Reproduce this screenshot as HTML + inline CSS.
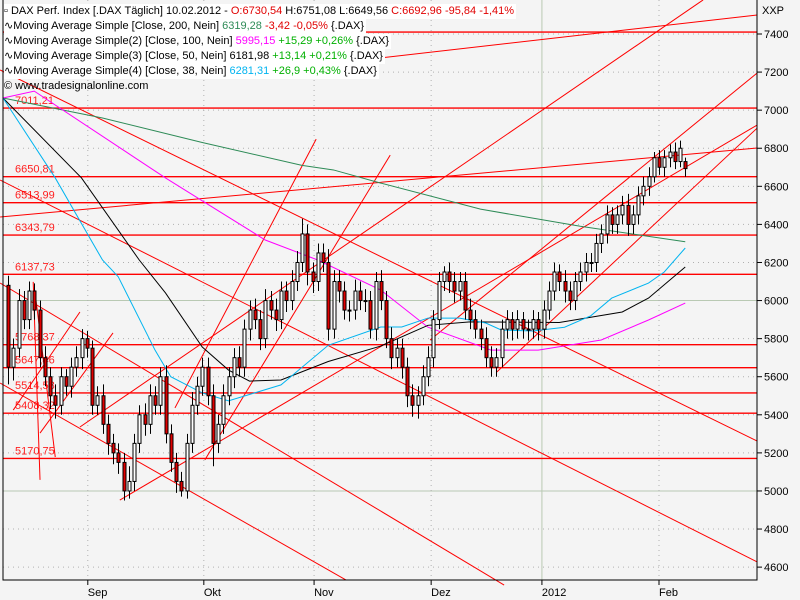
<!DOCTYPE html>
<html><head><meta charset="utf-8"><style>
html,body{margin:0;padding:0;background:#f4f4f4;}
svg{display:block;font-family:"Liberation Sans",sans-serif;}
</style></head><body>
<svg id="chart" width="800" height="600" viewBox="0 0 800 600">
<rect x="0" y="0" width="800" height="600" fill="#f4f4f4"/>
<g id="grid"></g>
<g id="hlines"></g>
<g id="trend"></g>
<g id="mas"></g>
<g id="candles"></g>
<g id="axes"></g>
</svg>
<script>
const opens=[6080,5650,5750,6000,5900,6050,5950,5700,5600,5500,5450,5600,5550,5650,5700,5800,5750,
5450,5500,5350,5250,5200,5150,5000,5050,5250,5400,5350,5500,5450,5600,5300,5150,5050,5000,5250,5450,5550,5650,
5500,5250,5350,5500,5600,5700,5650,5850,5950,5900,5800,6000,5950,5900,6050,6000,6100,6200,6350,6150,6100,
6250,6200,5850,6100,6050,5950,5950,6050,6000,6000,5850,6100,6000,5800,5700,5750,5650,5500,5450,5500,5600,
5700,5900,6100,6150,6100,6050,6100,5950,5900,5850,5800,5700,5650,5700,5850,5900,5850,5900,5850,5850,5900,
5850,5950,6050,6150,6100,6050,6000,6100,6150,6200,6200,6300,6350,6450,6400,6450,6500,6400,6450,6550,
6600,6650,6750,6700,6750,6780,6730,6730];
const highs=[6130,5800,6060,6050,6100,6090,6000,5760,5650,5560,5650,5640,5700,5760,5850,5840,5790,
5550,5560,5400,5300,5250,5200,5130,5300,5450,5460,5560,5550,5650,5660,5350,5200,5100,5300,5520,5600,5700,5700,
5560,5400,5560,5650,5750,5760,5900,6000,6010,5950,6060,6050,6010,6100,6100,6160,6260,6430,6400,6200,6300,
6300,6270,6160,6160,6100,6000,6110,6100,6060,6050,6150,6160,6050,5860,5800,5800,5700,5560,5550,5660,5760,
5950,6150,6180,6200,6150,6150,6150,6010,5950,5900,5860,5760,5750,5900,5950,5940,5950,5940,5900,5950,5940,
6000,6100,6200,6190,6160,6100,6150,6200,6250,6250,6350,6400,6500,6490,6500,6550,6560,6500,6600,6650,
6700,6780,6790,6790,6820,6830,6840,6751];
const lows=[5560,5580,5700,5850,5850,5900,5650,5550,5430,5380,5400,5500,5490,5600,5640,5700,5400,
5400,5300,5190,5140,5090,4950,4960,5000,5200,5290,5300,5400,5400,5250,5100,4990,4970,4960,5200,5400,5500,5450,
5130,5200,5300,5450,5540,5600,5600,5790,5850,5740,5750,5900,5840,5850,5940,5950,6050,6150,6080,6040,6050,
6150,5790,5800,5990,5900,5890,5900,5950,5940,5800,5790,5950,5750,5640,5650,5590,5440,5390,5380,5450,5550,
5650,5850,6050,6040,5990,6000,5900,5850,5800,5740,5650,5600,5600,5650,5800,5790,5800,5800,5790,5800,5790,
5800,5900,6000,6050,5990,5950,5950,6050,6100,6150,6150,6250,6300,6350,6350,6400,6340,6350,6400,6500,
6550,6620,6660,6650,6700,6690,6700,6650];
const closes=[5650,5750,6000,5900,6050,5950,5700,5600,5500,5450,5600,5550,5650,5700,5800,5750,5450,
5500,5350,5250,5200,5150,5000,5050,5250,5400,5350,5500,5450,5600,5300,5150,5050,5000,5250,5450,5550,5650,5500,
5250,5350,5500,5600,5700,5650,5850,5950,5900,5800,6000,5950,5900,6050,6000,6100,6200,6350,6150,6100,6250,
6200,5850,6100,6050,5950,5950,6050,6000,6000,5850,6100,6000,5800,5700,5750,5650,5500,5450,5500,5600,5700,
5900,6100,6150,6100,6050,6100,5950,5900,5850,5800,5700,5650,5700,5850,5900,5850,5900,5850,5850,5900,5850,
5950,6050,6150,6100,6050,6000,6100,6150,6200,6200,6300,6350,6450,6400,6450,6500,6400,6450,6550,6600,
6650,6750,6700,6750,6780,6730,6800,6693];
const ma200Idx=[0,18,37,56,62,71,90,109,129];
const ma200Val=[7064,6959,6830,6710,6686,6617,6480,6390,6309];
const ma100Idx=[0,5,30,49,59,71,80,92,101,113,122,129];
const ma100Val=[7064,7100,6644,6318,6213,6055,5860,5740,5740,5793,5898,5987];
const ma50Idx=[0,14,25,30,37,42,46,52,61,71,80,88,105,117,122,129];
const ma50Val=[7064,6644,6213,6040,5756,5635,5577,5583,5680,5761,5870,5888,5885,5940,6013,6176];
const ma38Idx=[0,9,18,21,28,31,37,42,47,52,61,71,75,80,86,91,94,100,106,111,115,122,125,129];
const ma38Val=[7064,6644,6213,6125,5740,5600,5515,5473,5515,5557,5765,5861,5861,5908,5908,5882,5845,5840,5860,5920,6013,6092,6150,6276];
const levelVals=[7410,7011.21,6650.81,6513.99,6343.79,6137.73,5768.37,5647.46,5514.58,5408.32,5170.75];
const levelLabels=["","7011,21","6650,81","6513,99","6343,79","6137,73","5768,37","5647,46","5514,58","5408,32","5170,75"];
const trendStartIdx=[-1.5,-1.5,-1.5,-1.5,21.3,13.7,93.1,80.4,-1.5,70.9,31.8,37.5,4.8,5.1,13.7,20];
const trendStartVal=[5567,6092,6633,7211,4952,5336,5625,5793,6439,7274,5436,5163,6098,6056,5940,5830];
const trendEndIdx=[64.4,94.5,142.7,142.7,142.7,132.4,142.7,142.7,142.7,142.7,58.7,72.8,6.1,9,1,6.1];
const trendEndVal=[4532,4506,4627,5262,6922,7579,6906,7195,6801,7500,6848,6764,5058,5178,5425,5304];
const yTicks=[4600,4800,5000,5200,5400,5600,5800,6000,6200,6400,6600,6800,7000,7200,7400];
const monthLabels=["Sep","Okt","Nov","Dez","2012","Feb"];
const monthIdx=[15.2,37.3,58.3,80.6,101.7,124];

const PL=3,PR=757,PT=0,PB=580;
function X(i){return 8+i*5.25;}
function Y(v){return 34+(7400-v)*0.1904;}
const NS="http://www.w3.org/2000/svg";
function mk(parent,tag,attrs){const e=document.createElementNS(NS,tag);for(const k in attrs)e.setAttribute(k,attrs[k]);document.getElementById(parent).appendChild(e);return e;}

yTicks.forEach(v=>{
  const solid=(v===5000||v===6000);
  const l=mk('grid','line',{x1:PL,x2:PR,y1:Y(v),y2:Y(v),stroke:solid?'#b9c9b3':'#b0b0b0','stroke-width':1,'stroke-dasharray':solid?'':'1,4'});
  
  
});
monthIdx.forEach((m,k)=>{
  const solid=(monthLabels[k]==="2012");
  const l=mk('grid','line',{x1:X(m),x2:X(m),y1:PT,y2:PB,stroke:solid?'#b9c9b3':'#b0b0b0','stroke-width':1,'stroke-dasharray':solid?'':'1,4'});
  
  
});
levelVals.forEach((v,k)=>{
  const l=mk('hlines','line',{x1:PL,x2:PR,y1:Y(v),y2:Y(v),stroke:'#ff0000','stroke-width':1.4});
  
  
  if(levelLabels[k]){
    const t=mk('hlines','text',{x:15,y:Y(v)-4,fill:'#ff2020','font-size':11});
    t.textContent=levelLabels[k];
    
    
  }
});
trendStartIdx.forEach((s,k)=>{
  const l=mk('trend','line',{x1:X(s),y1:Y(trendStartVal[k]),x2:X(trendEndIdx[k]),y2:Y(trendEndVal[k]),stroke:'#ff0000','stroke-width':1});
  
  
});
function ma(idx,val,color,name){
  const pts=idx.map((i,k)=>(i===0?PL:X(i))+','+Y(val[k])).join(' ');
  const p=mk('mas','polyline',{points:pts,fill:'none',stroke:color,'stroke-width':1});
  
  
}
ma(ma200Idx,ma200Val,'#2e8b57','ma200-line');
ma(ma100Idx,ma100Val,'#ff00ff','ma100-line');
ma(ma50Idx,ma50Val,'#000000','ma50-line');
ma(ma38Idx,ma38Val,'#00b4f0','ma38-line');
closes.forEach((c,i)=>{
  const o=opens[i],x=Math.round(X(i))+0.5;
  const w=mk('candles','line',{x1:x,x2:x,y1:Y(highs[i]),y2:Y(lows[i]),stroke:'#000','stroke-width':1});
  
  
  const top=Y(Math.max(o,c)),bot=Y(Math.min(o,c));
  const b=mk('candles','rect',{x:x-1.5,y:top,width:3,height:Math.max(1,bot-top),fill:c<o?'#e00000':'#ffffff',stroke:'#000','stroke-width':1});
  
  
});
const fr=mk('axes','path',{d:`M${PL},${PT} L${PL},${PB} L${PR},${PB} L${PR},${PT}`,fill:'none',stroke:'#000','stroke-width':1});


yTicks.forEach(v=>{
  const tk=mk('axes','line',{x1:PR,x2:PR+5,y1:Y(v),y2:Y(v),stroke:'#000'});
  
  
  const t=mk('axes','text',{x:PR+7,y:Y(v)+4,'font-size':11,fill:'#000'});
  t.textContent=String(v);
  
  
});
const xx=mk('axes','text',{x:762,y:14,'font-size':11,fill:'#000'});
xx.textContent='XXP';


monthIdx.forEach((m,k)=>{
  const tk=mk('axes','line',{x1:X(m),x2:X(m),y1:PB,y2:PB+5,stroke:'#000'});
  
  
  const t=mk('axes','text',{x:X(m),y:596,'font-size':11,fill:'#000'});
  t.textContent=monthLabels[k];
  
  
});
</script>
<div style="position:absolute;left:4px;top:4px;font:11px 'Liberation Sans',sans-serif;line-height:15px;">
<div style="background:#fff;display:inline-block;padding-right:2px">&#x25AB; DAX Perf. Index [.DAX  Täglich] 10.02.2012 - <span style="color:#e00000">O:6730,54</span> H:6751,08 L:6649,56 <span style="color:#e00000">C:6692,96 -95,84 -1,41%</span></div><br>
<div style="background:#fff;display:inline-block;padding-right:2px">∿Moving Average Simple [Close, 200, Nein] <span style="color:#2e8b57">6319,28</span> <span style="color:#e00000">-3,42 -0,05%</span> {.DAX}</div><br>
<div style="background:#fff;display:inline-block;padding-right:2px">∿Moving Average Simple(2) [Close, 100, Nein] <span style="color:#ff00ff">5995,15</span> <span style="color:#00b000">+15,29 +0,26%</span> {.DAX}</div><br>
<div style="background:#fff;display:inline-block;padding-right:2px">∿Moving Average Simple(3) [Close, 50, Nein] 6181,98 <span style="color:#00b000">+13,14 +0,21%</span> {.DAX}</div><br>
<div style="background:#fff;display:inline-block;padding-right:2px">∿Moving Average Simple(4) [Close, 38, Nein] <span style="color:#00b4f0">6281,31</span> <span style="color:#00b000">+26,9 +0,43%</span> {.DAX}</div><br>
<div style="display:inline-block;color:#000">© www.tradesignalonline.com</div>
</div>
</body></html>
